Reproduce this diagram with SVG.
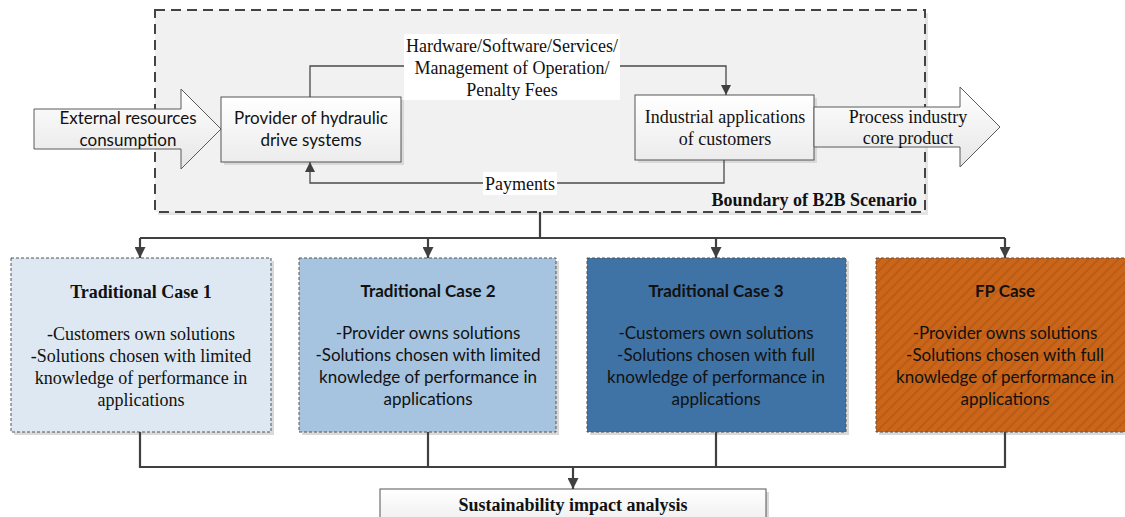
<svg xmlns="http://www.w3.org/2000/svg" width="1125" height="517" viewBox="0 0 1125 517">
  <defs>
    <linearGradient id="boxGrad" x1="0" y1="0" x2="0" y2="1">
      <stop offset="0" stop-color="#ffffff"/>
      <stop offset="1" stop-color="#ececec"/>
    </linearGradient>
    <linearGradient id="arrowGrad" x1="0" y1="0" x2="0" y2="1">
      <stop offset="0" stop-color="#ffffff"/>
      <stop offset="1" stop-color="#e6e6e6"/>
    </linearGradient>
    <pattern id="hatch" patternUnits="userSpaceOnUse" width="7" height="7" patternTransform="rotate(45)">
      <rect width="7" height="7" fill="#ca651a"/>
      <line x1="1" y1="0" x2="1" y2="7" stroke="#bb5c14" stroke-width="2"/>
    </pattern>
    <marker id="arrow" viewBox="0 0 10 10" refX="10" refY="5" markerWidth="10" markerHeight="10" markerUnits="userSpaceOnUse" orient="auto">
      <path d="M0,0 L10,5 L0,10 z" fill="#404040"/>
    </marker>
    <marker id="arrowBig" viewBox="0 0 10 10" refX="10" refY="5" markerWidth="11" markerHeight="11" markerUnits="userSpaceOnUse" orient="auto">
      <path d="M0,0 L10,5 L0,10 z" fill="#404040"/>
    </marker>
  </defs>
  <style>
    .serif { font-family: "Liberation Serif", "Times New Roman", serif; fill: #111; font-size: 18px; }
    .sans { font-family: Lato, "Liberation Sans", Arial, sans-serif; fill: #111; font-size: 17px; }
    .node { stroke: #555; stroke-width: 1; fill: url(#boxGrad); }
    .shadow { fill: #d9d9d9; }
    .case { stroke: #555; stroke-width: 1; stroke-dasharray: 3 2; }
    .thin { fill: none; stroke: #4a4a4a; stroke-width: 1.3; }
    .thick { fill: none; stroke: #404040; stroke-width: 2.2; }
    .lbl { fill: #ffffff; }
  </style>

  <!-- B2B scenario boundary -->
  <g id="boundary">
    <rect x="158" y="13" width="770" height="202" fill="#e4e4e4"/>
    <rect x="155" y="10" width="770" height="202" fill="#f1f1f1" stroke="#444" stroke-width="2" stroke-dasharray="10 6"/>
    <text class="serif" x="917" y="206" font-weight="bold" text-anchor="end">Boundary of B2B Scenario</text>
  </g>

  <!-- Resource input arrow -->
  <g id="external-resources">
    <path d="M34,109 H181 V89 L221,129 L181,169 V149 H34 Z" fill="url(#arrowGrad)" stroke="#5a5a5a" stroke-width="1"/>
    <text class="sans" x="128" y="124" text-anchor="middle">External resources</text>
    <text class="sans" x="128" y="146" text-anchor="middle">consumption</text>
  </g>

  <!-- Provider -->
  <g id="provider">
    <rect class="shadow" x="224" y="100" width="180" height="65"/>
    <rect class="node" x="221" y="97" width="180" height="65"/>
    <text class="sans" x="311" y="124" text-anchor="middle">Provider of hydraulic</text>
    <text class="sans" x="311" y="146" text-anchor="middle">drive systems</text>
  </g>

  <!-- Customers -->
  <g id="industrial-applications">
    <rect class="shadow" x="638" y="98" width="179" height="65"/>
    <rect class="node" x="635" y="95" width="179" height="65"/>
    <text class="serif" x="725" y="123" text-anchor="middle">Industrial applications</text>
    <text class="serif" x="725" y="145" text-anchor="middle">of customers</text>
  </g>

  <!-- Output arrow -->
  <g id="core-product">
    <path d="M814,107 H960 V87 L1000,127 L960,167 V147 H814 Z" fill="url(#arrowGrad)" stroke="#5a5a5a" stroke-width="1"/>
    <text class="serif" x="908" y="123" text-anchor="middle">Process industry</text>
    <text class="serif" x="908" y="144" text-anchor="middle">core product</text>
  </g>

  <!-- Cases -->
  <g id="case1">
    <rect class="shadow" x="14" y="261" width="260" height="174"/>
    <rect class="case" x="11" y="258" width="260" height="174" fill="#dde8f3"/>
    <text class="serif" x="141" y="298" font-weight="bold" text-anchor="middle">Traditional Case 1</text>
    <text class="serif" x="141" y="340" text-anchor="middle">-Customers own solutions</text>
    <text class="serif" x="141" y="362" text-anchor="middle">-Solutions chosen with limited</text>
    <text class="serif" x="141" y="384" text-anchor="middle">knowledge of performance in</text>
    <text class="serif" x="141" y="406" text-anchor="middle">applications</text>
  </g>
  <g id="case2">
    <rect class="shadow" x="302" y="261" width="257" height="174"/>
    <rect class="case" x="299" y="258" width="257" height="174" fill="#a6c3df"/>
    <text class="sans" x="428" y="297" font-weight="bold" text-anchor="middle">Traditional Case 2</text>
    <text class="sans" x="428" y="339" text-anchor="middle">-Provider owns solutions</text>
    <text class="sans" x="428" y="361" text-anchor="middle">-Solutions chosen with limited</text>
    <text class="sans" x="428" y="383" text-anchor="middle">knowledge of performance in</text>
    <text class="sans" x="428" y="405" text-anchor="middle">applications</text>
  </g>
  <g id="case3">
    <rect class="shadow" x="590" y="261" width="259" height="174"/>
    <rect class="case" x="587" y="258" width="259" height="174" fill="#3f72a5"/>
    <text class="sans" x="716" y="297" font-weight="bold" text-anchor="middle">Traditional Case 3</text>
    <text class="sans" x="716" y="339" text-anchor="middle">-Customers own solutions</text>
    <text class="sans" x="716" y="361" text-anchor="middle">-Solutions chosen with full</text>
    <text class="sans" x="716" y="383" text-anchor="middle">knowledge of performance in</text>
    <text class="sans" x="716" y="405" text-anchor="middle">applications</text>
  </g>
  <g id="fp-case">
    <rect class="shadow" x="879" y="261" width="259" height="174"/>
    <rect class="case" x="876" y="258" width="259" height="174" fill="url(#hatch)"/>
    <text class="sans" x="1005" y="297" font-weight="bold" text-anchor="middle">FP Case</text>
    <text class="sans" x="1005" y="339" text-anchor="middle">-Provider owns solutions</text>
    <text class="sans" x="1005" y="361" text-anchor="middle">-Solutions chosen with full</text>
    <text class="sans" x="1005" y="383" text-anchor="middle">knowledge of performance in</text>
    <text class="sans" x="1005" y="405" text-anchor="middle">applications</text>
  </g>

  <!-- Analysis -->
  <g id="sustainability-analysis">
    <rect class="shadow" x="383" y="492" width="386" height="30"/>
    <rect class="node" x="380" y="489" width="386" height="40"/>
    <text class="serif" x="573" y="511" font-weight="bold" text-anchor="middle">Sustainability impact analysis</text>
  </g>

  <!-- Connectors -->
  <g id="connectors">
    <!-- deliveries from provider to customers -->
    <path class="thin" d="M310,97 V66 H726 V95" marker-end="url(#arrow)"/>
    <rect class="lbl" x="404" y="34" width="216" height="66"/>
    <text class="serif" x="512" y="52" text-anchor="middle">Hardware/Software/Services/</text>
    <text class="serif" x="512" y="74" text-anchor="middle">Management of Operation/</text>
    <text class="serif" x="512" y="96" text-anchor="middle">Penalty Fees</text>

    <!-- payments back to provider -->
    <path class="thin" d="M724,160 V183 H310 V162" marker-end="url(#arrow)"/>
    <rect class="lbl" x="483" y="172" width="74" height="23"/>
    <text class="serif" x="520" y="190" text-anchor="middle">Payments</text>

    <!-- scenario to cases -->
    <path class="thick" d="M540,212 V238"/>
    <path class="thick" d="M140,238 H1005"/>
    <path class="thick" d="M140,238 V258" marker-end="url(#arrowBig)"/>
    <path class="thick" d="M428,238 V258" marker-end="url(#arrowBig)"/>
    <path class="thick" d="M716,238 V258" marker-end="url(#arrowBig)"/>
    <path class="thick" d="M1005,238 V258" marker-end="url(#arrowBig)"/>

    <!-- cases to analysis -->
    <path class="thick" d="M140,432 V467 H1005 V432"/>
    <path class="thick" d="M428,432 V467"/>
    <path class="thick" d="M716,432 V467"/>
    <path class="thick" d="M573,467 V489" marker-end="url(#arrowBig)"/>
  </g>
</svg>
